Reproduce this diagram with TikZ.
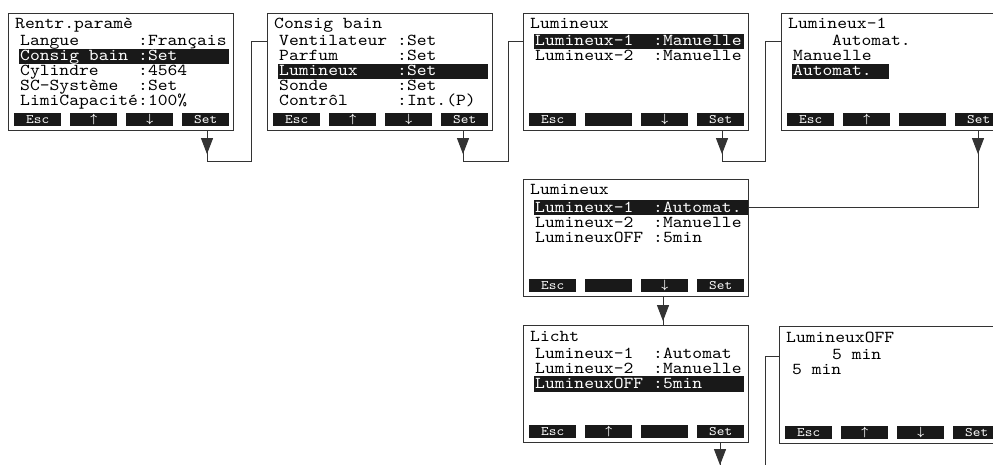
\documentclass[tikz,border=0pt]{standalone}
\usepackage{amsmath}
\usepackage{fontspec}
\usetikzlibrary{arrows.meta,decorations.markings}
\newfontfamily\lcdfont[FakeStretch=1.12]{lmmono10-regular.otf}

\tikzset{
  screenbox/.style={draw=black!80, line width=1.1pt, anchor=north west,
    minimum width=225pt, minimum height=117pt, inner sep=0pt},
  lcd/.style={font=\lcdfont\fontsize{16.7}{16.7}\selectfont, anchor=base west, inner sep=0pt},
  lcdkey/.style={fill=black!90, text=white, anchor=north west, minimum width=47pt,
    minimum height=13pt, inner sep=0pt, font=\lcdfont\fontsize{13}{13}\selectfont},
  selbar/.style={fill=black!90},
  link/.style={draw=black!80, line width=1pt},
  headat/.style={postaction={decorate, decoration={markings,
    mark=at position #1 with {\arrow{Triangle[width=12pt,length=16pt]}}}}}
}

% one display: name, left, top, title
\newcommand\lcdscreen[4]{%
  \node[screenbox] (#1) at (#2,#3) {};
  \node[lcd] (#1-t) at ([shift={(7,16)}]#1.north west) {#4};}
% one menu line: [style] screen, row, label, value
\newcommand\lcdrow[5][]{%
  \node[lcd,#1] (#2-l#3) at ([shift={(12,18+15*#3)}]#2.north west) {#4};
  \node[lcd,#1] (#2-v#3) at ([shift={(130,18+15*#3)}]#2.north west) {#5};}
% black selection bar: [right end] screen, row
\newcommand\lcdsel[3][221]{%
  \fill[selbar] ([shift={(11,6+15*#3)}]#2.north west) rectangle ([shift={(#1,21.5+15*#3)}]#2.north west);}
% soft keys along the bottom
\newcommand\lcdkeys[2]{%
  \foreach \lbl [count=\i from 0] in {#2}
    \node[lcdkey] (#1-k\i) at ([shift={(6+56*\i,100)}]#1.north west) {\lbl};}
\newcommand\keyup{$\boldsymbol{\uparrow}$}
\newcommand\keydown{$\boldsymbol{\downarrow}$}

\begin{document}
\begin{tikzpicture}[x=1pt,y=-1pt]
  \useasboundingbox (0,0) rectangle (993,465);
  \clip (0,0) rectangle (993,465);

  % Rentr.param
  \lcdscreen{s1}{8}{13}{Rentr.paramè}
  \lcdsel{s1}{2}
  \lcdrow{s1}{1}{Langue}{:Français}
  \lcdrow[white]{s1}{2}{Consig bain}{:Set}
  \lcdrow{s1}{3}{Cylindre}{:4564}
  \lcdrow{s1}{4}{SC-Système}{:Set}
  \lcdrow{s1}{5}{LimiCapacité}{:100\%}
  \lcdkeys{s1}{Esc,\keyup,\keydown,Set}

  % Consig bain
  \lcdscreen{s2}{267}{13}{Consig bain}
  \lcdsel{s2}{3}
  \lcdrow{s2}{1}{Ventilateur}{:Set}
  \lcdrow{s2}{2}{Parfum}{:Set}
  \lcdrow[white]{s2}{3}{Lumineux}{:Set}
  \lcdrow{s2}{4}{Sonde}{:Set}
  \lcdrow{s2}{5}{Contrôl}{:Int.(P)}
  \lcdkeys{s2}{Esc,\keyup,\keydown,Set}

  % Lumineux
  \lcdscreen{s3}{523}{13}{Lumineux}
  \lcdsel{s3}{1}
  \lcdrow[white]{s3}{1}{Lumineux-1}{:Manuelle}
  \lcdrow{s3}{2}{Lumineux-2}{:Manuelle}
  \lcdkeys{s3}{Esc,{},\keydown,Set}

  % Lumineux-1 choice
  \lcdscreen{s4}{781}{13}{Lumineux-1}
  \node[lcd] (s4-a) at ([shift={(51,33)}]s4.north west) {Automat.};
  \node[lcd] (s4-b) at ([shift={(12,48)}]s4.north west) {Manuelle};
  \lcdsel[108]{s4}{3}
  \node[lcd,white] (s4-c) at ([shift={(12,63)}]s4.north west) {Automat.};
  \lcdkeys{s4}{Esc,\keyup,{},Set}

  % Lumineux, after the choice
  \lcdscreen{s5}{523}{179}{Lumineux}
  \lcdsel[225]{s5}{1}
  \lcdrow[white]{s5}{1}{Lumineux-1}{:Automat.}
  \lcdrow{s5}{2}{Lumineux-2}{:Manuelle}
  \lcdrow{s5}{3}{LumineuxOFF}{:5min}
  \lcdkeys{s5}{Esc,{},\keydown,Set}

  % Licht
  \lcdscreen{s6}{523}{325}{Licht}
  \lcdsel{s6}{3}
  \lcdrow{s6}{1}{Lumineux-1}{:Automat}
  \lcdrow{s6}{2}{Lumineux-2}{:Manuelle}
  \lcdrow[white]{s6}{3}{LumineuxOFF}{:5min}
  \lcdkeys{s6}{Esc,\keyup,{},Set}

  % LumineuxOFF
  \lcdscreen{s7}{779}{326}{LumineuxOFF}
  \node[lcd] (s7-a) at ([shift={(53,33)}]s7.north west) {5 min};
  \node[lcd] (s7-b) at ([shift={(13,48)}]s7.north west) {5 min};
  \lcdkeys{s7}{Esc,\keyup,\keydown,Set}

  % connectors
  \coordinate (s6end) at (720,475);
  \coordinate (s7feed) at (765,475);
  \draw[link, headat=23pt] ([shift={(199,0)}]s1.south west) -- ++(0,30)
    -| ([shift={(-16,29)}]s2.north west) -- ([shift={(0,29)}]s2.north west);
  \draw[link, headat=23pt] ([shift={(196,0)}]s2.south west) -- ++(0,30)
    -| ([shift={(-15,29)}]s3.north west) -- ([shift={(0,29)}]s3.north west);
  \draw[link, headat=23pt] ([shift={(199,0)}]s3.south west) -- ++(0,30)
    -| ([shift={(-16,29)}]s4.north west) -- ([shift={(0,29)}]s4.north west);
  \draw[link, headat=23pt] ([shift={(197,0)}]s4.south west) |- ([shift={(0,29)}]s5.north east);
  \draw[link, headat=24pt] ([shift={(140,0)}]s5.south west) -- ([shift={(140,0)}]s6.north west);
  \draw[link, headat=22pt] ([shift={(197,0)}]s6.south west) -- (s6end);
  \draw[link] (s7feed) |- ([shift={(0,30)}]s7.north west);
\end{tikzpicture}
\end{document}
